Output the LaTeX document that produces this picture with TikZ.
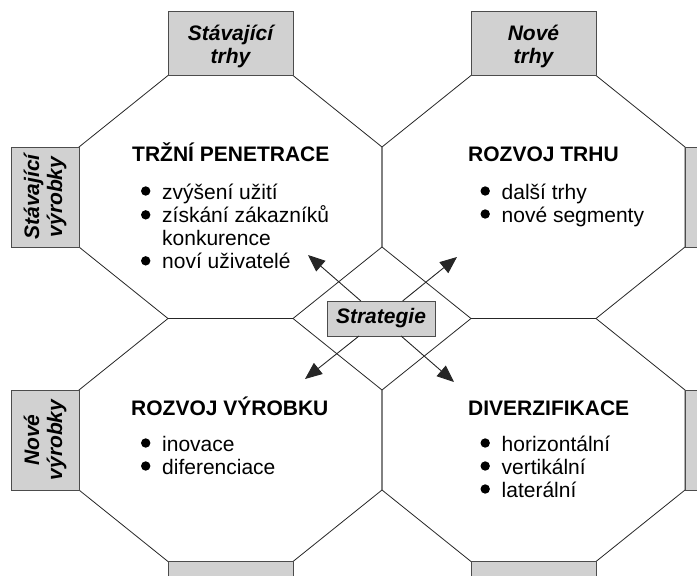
\documentclass[tikz,border=0pt]{standalone}
\usepackage{fontspec}
\setmainfont{Liberation Sans}
\usetikzlibrary{arrows.meta}
\newcommand\bul{\tikz[baseline=-8pt]\fill (0pt,0pt) circle (4.7pt);}
\begin{document}
\begin{tikzpicture}[x=1pt,y=-1pt,
  octa/.style={draw=black!85,line width=0.8pt},
  sidebox/.style={draw=black!70,fill=black!18,line width=1pt,inner sep=0pt,outer sep=0pt,align=center,font=\fontsize{21}{23}\selectfont\bfseries\itshape},
  head/.style={anchor=base west,inner sep=0pt,font=\fontsize{21}{23}\selectfont\bfseries},
  items/.style={anchor=base west,inner sep=0pt,font=\fontsize{21}{23}\selectfont},
  arr/.style={draw=black!85,line width=0.9pt,-{Triangle[length=17pt,width=14pt]}}]
\useasboundingbox (0,0) rectangle (697,576);
\clip (0,0) rectangle (697,576);
\foreach \cx/\cy in {230.5/197,533.5/197,230.5/440,533.5/440}
  \draw[octa] (\cx-62.5,\cy-121.5) -- (\cx+62.5,\cy-121.5) -- (\cx+151.5,\cy-50) -- (\cx+151.5,\cy+50)
    -- (\cx+62.5,\cy+121.5) -- (\cx-62.5,\cy+121.5) -- (\cx-151.5,\cy+50) -- (\cx-151.5,\cy-50) -- cycle;
\node[sidebox,minimum width=125pt,minimum height=64.5pt] (oldmkt) at (230.5,43.25) {\rule{0pt}{22pt}Stávající\\trhy};
\node[sidebox,minimum width=125pt,minimum height=64.5pt] (newmkt) at (533.5,43.25) {\rule{0pt}{22pt}Nové\\trhy};
\node[sidebox,rotate=90,minimum width=100pt,minimum height=68pt] (oldprod) at (45,197) {Stávající\\výrobky};
\node[sidebox,rotate=90,minimum width=100pt,minimum height=68pt] (newprod) at (45,440) {Nové\\výrobky};
\foreach \y [count=\i] in {197,440}
  \node[sidebox,minimum width=68pt,minimum height=100pt] (rside\i) at (719,\y) {};
\foreach \x [count=\i] in {230.5,533.5}
  \node[sidebox,minimum width=125pt,minimum height=64.5pt] (bside\i) at (\x,593.75) {};
\node[head] (pentitle) at (132,161.5) {TRŽNÍ PENETRACE};
\node[items] (penlist) at (145.5,199) {\begin{tabular}[t]{@{}l@{\hspace{16.5pt}}l@{}}
  \makebox[0pt]{\bul} & zvýšení užití\\ \makebox[0pt]{\bul} & získání zákazníků\\ & konkurence\\ \makebox[0pt]{\bul} & noví uživatelé\end{tabular}};
\node[head] (mkttitle) at (468,161.5) {ROZVOJ TRHU};
\node[items] (mktlist) at (485,199) {\begin{tabular}[t]{@{}l@{\hspace{16.5pt}}l@{}}
  \makebox[0pt]{\bul} & další trhy\\ \makebox[0pt]{\bul} & nové segmenty\end{tabular}};
\node[head] (prodtitle) at (131,415) {ROZVOJ VÝROBKU};
\node[items] (prodlist) at (145.5,451) {\begin{tabular}[t]{@{}l@{\hspace{16.5pt}}l@{}}
  \makebox[0pt]{\bul} & inovace\\ \makebox[0pt]{\bul} & diferenciace\end{tabular}};
\node[head] (divtitle) at (468,415) {DIVERZIFIKACE};
\node[items] (divlist) at (485,451) {\begin{tabular}[t]{@{}l@{\hspace{16.5pt}}l@{}}
  \makebox[0pt]{\bul} & horizontální\\ \makebox[0pt]{\bul} & vertikální\\ \makebox[0pt]{\bul} & laterální\end{tabular}};
\node[sidebox,minimum width=108pt,minimum height=35pt] (strat) at (381,318.5) {Strategie};
\coordinate (tipNW) at (308,255);
\coordinate (tipNE) at (457,257);
\coordinate (tipSW) at (305,379);
\coordinate (tipSE) at (454,382);
\foreach \t in {tipNW,tipNE,tipSW,tipSE}
  \draw[arr] (strat) -- (\t);
\end{tikzpicture}
\end{document}
